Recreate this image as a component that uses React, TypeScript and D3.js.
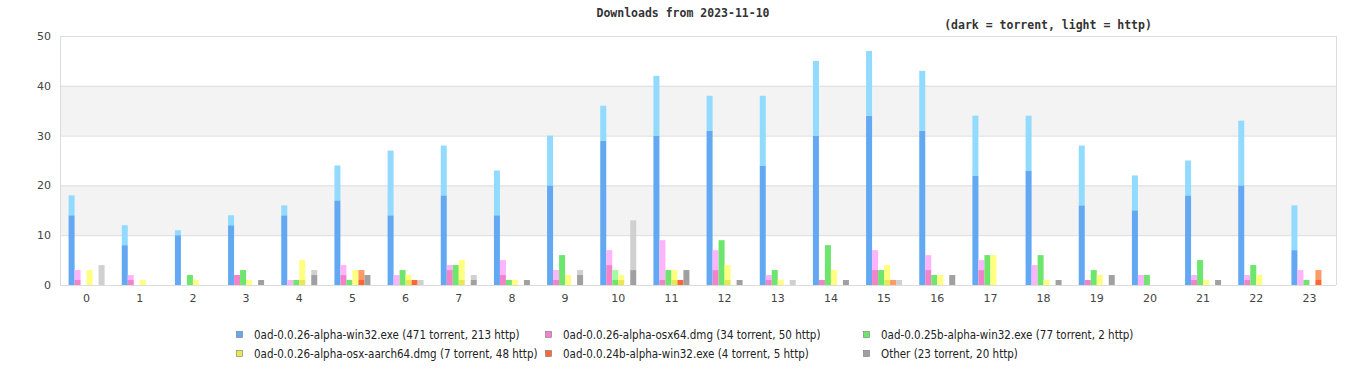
import React from "react";
import * as d3 from "d3";

const hours = d3.range(24).map(String);

const seriesNames = [
  "0ad-0.0.26-alpha-win32.exe",
  "0ad-0.0.26-alpha-osx64.dmg",
  "0ad-0.0.25b-alpha-win32.exe",
  "0ad-0.0.26-alpha-osx-aarch64.dmg",
  "0ad-0.0.24b-alpha-win32.exe",
  "Other",
];

const darkColors = ["#62a8f2", "#f282c9", "#6ce66c", "#e8e850", "#ff6633", "#a0a0a0"];
const lightColors = ["#92dafe", "#fdb4fd", "#a0fca0", "#ffff80", "#ff9966", "#d0d0d0"];

// torrent / http counts per hour
const win32Torrent = [14, 8, 10, 12, 14, 17, 14, 18, 14, 20, 29, 30, 31, 24, 30, 34, 31, 22, 23, 16, 15, 18, 20, 7];
const win32Http = [4, 4, 1, 2, 2, 7, 13, 10, 9, 10, 7, 12, 7, 14, 15, 13, 12, 12, 11, 12, 7, 7, 13, 9];
const osx64Torrent = [1, 1, 0, 2, 0, 2, 0, 3, 2, 1, 4, 1, 3, 1, 1, 3, 3, 3, 0, 1, 0, 1, 1, 0];
const osx64Http = [2, 1, 0, 0, 1, 2, 2, 1, 3, 2, 3, 8, 4, 1, 0, 4, 3, 2, 4, 0, 2, 1, 1, 3];
const w25bTorrent = [0, 0, 2, 3, 1, 1, 3, 4, 1, 6, 1, 3, 9, 3, 8, 3, 2, 6, 6, 3, 2, 5, 4, 1];
const w25bHttp = [0, 0, 0, 0, 0, 0, 0, 0, 0, 0, 2, 0, 0, 0, 0, 0, 0, 0, 0, 0, 0, 0, 0, 0];
const aarchTorrent = [0, 0, 0, 0, 1, 0, 1, 1, 0, 0, 1, 1, 1, 0, 0, 1, 0, 0, 0, 0, 0, 0, 0, 0];
const aarchHttp = [3, 1, 1, 1, 4, 3, 1, 4, 1, 2, 1, 2, 3, 1, 3, 3, 2, 6, 1, 2, 0, 1, 2, 0];
const w24bTorrent = [0, 0, 0, 0, 0, 1, 1, 0, 0, 0, 0, 1, 0, 0, 0, 0, 0, 0, 0, 0, 0, 0, 0, 1];
const w24bHttp = [0, 0, 0, 0, 0, 2, 0, 0, 0, 0, 0, 0, 0, 0, 0, 1, 0, 0, 0, 0, 0, 0, 0, 2];
const otherTorrent = [0, 0, 0, 1, 2, 2, 0, 1, 1, 2, 3, 3, 1, 0, 1, 0, 2, 0, 1, 2, 0, 1, 0, 0];
const otherHttp = [4, 0, 0, 0, 1, 0, 1, 1, 0, 1, 10, 0, 0, 1, 0, 1, 0, 0, 0, 0, 0, 0, 0, 0];

const torrent = [win32Torrent, osx64Torrent, w25bTorrent, aarchTorrent, w24bTorrent, otherTorrent];
const http = [win32Http, osx64Http, w25bHttp, aarchHttp, w24bHttp, otherHttp];

const yTicks = [0, 10, 20, 30, 40, 50];

export default function App() {
  const W = 1366, H = 380;
  const left = 60, right = 1336, top = 36, bottom = 285;
  const x0 = d3.scaleBand<string>().domain(hours).range([left, right]).paddingInner(0.323).paddingOuter(0.1615);
  const x1 = d3.scaleBand<number>().domain(d3.range(seriesNames.length)).range([0, x0.bandwidth()]);
  const y = d3.scaleLinear().domain([0, 50]).range([bottom, top]);

  const sum = (a: number[]) => d3.sum(a);
  const legendItems = seriesNames.map((n, i) => `${n} (${sum(torrent[i])} torrent, ${sum(http[i])} http)`);
  const legendX = [236, 545, 863];
  const legendY = [335, 354];

  const bands = [] as JSX.Element[];
  for (let k = 0; k < yTicks.length - 1; k++) {
    if (k % 2 === 1) {
      bands.push(
        <rect key={"b" + k} x={left} y={y(yTicks[k + 1])} width={right - left} height={y(yTicks[k]) - y(yTicks[k + 1])} fill="#f3f3f3" />
      );
    }
  }

  return (
    <svg width={W} height={H} style={{ position: "absolute", left: 0, top: 0, background: "#fff" }}>
      <rect x={0} y={0} width={W} height={H} fill="#fff" />
      <text x={683} y={17} textAnchor="middle" fontFamily="DejaVu Sans Mono" fontWeight="bold" fontSize={11.5} fill="#333">
        Downloads from 2023-11-10
      </text>
      <text x={1048} y={29} textAnchor="middle" fontFamily="DejaVu Sans Mono" fontWeight="bold" fontSize={11.5} fill="#333">
        (dark = torrent, light = http)
      </text>
      {bands}
      {yTicks.map((t) => (
        <g key={"t" + t}>
          <line x1={left} x2={right} y1={y(t) + 0.5} y2={y(t) + 0.5} stroke="#dcdcdc" />
          <text x={51} y={y(t) + 4} textAnchor="end" fontFamily="DejaVu Sans" fontSize={11} fill="#444">{t}</text>
        </g>
      ))}
      <line x1={left + 0.5} x2={left + 0.5} y1={top} y2={bottom} stroke="#dcdcdc" />
      <line x1={right + 0.5} x2={right + 0.5} y1={top} y2={bottom} stroke="#dcdcdc" />
      {hours.map((h, hi) => (
        <g key={"h" + h} transform={`translate(${x0(h)},0)`}>
          {seriesNames.map((_, si) => {
            const t = torrent[si][hi];
            const hp = http[si][hi];
            const bx = x1(si)!;
            const bw = x1.bandwidth();
            return (
              <g key={si}>
                {t > 0 && <rect x={bx} width={bw} y={y(t)} height={y(0) - y(t)} fill={darkColors[si]} />}
                {hp > 0 && <rect x={bx} width={bw} y={y(t + hp)} height={y(t) - y(t + hp)} fill={lightColors[si]} />}
              </g>
            );
          })}
          <text x={x0.bandwidth() / 2} y={302} textAnchor="middle" fontFamily="DejaVu Sans" fontSize={11} fill="#444">{h}</text>
        </g>
      ))}
      {legendItems.map((txt, i) => {
        const lx = legendX[i % 3];
        const ly = legendY[Math.floor(i / 3)];
        return (
          <g key={"l" + i}>
            <rect x={lx + 0.5} y={ly - 3.5} width={6} height={6} fill={darkColors[i]} stroke="#777" strokeWidth={0.6} />
            <text x={lx + 18} y={ly + 4} fontFamily="DejaVu Sans Condensed, DejaVu Sans" fontStretch="condensed" fontSize={11.5} fill="#222">{txt}</text>
          </g>
        );
      })}
    </svg>
  );
}
